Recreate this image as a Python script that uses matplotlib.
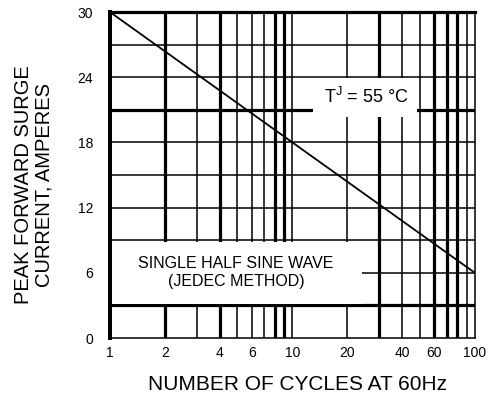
import matplotlib
matplotlib.use("Agg")
import matplotlib.pyplot as plt
from matplotlib.patches import Rectangle

plt.rcParams["font.family"] = ["Liberation Sans", "DejaVu Sans"]

# surge rating curve (straight line on the log axis)
cycles = [1, 100]
surge_amps = [30, 6]

x_ticks = [1, 2, 4, 6, 10, 20, 40, 60, 100]
x_ticklabels = ["1", "2", "4", "6", "10", "20", "40", "60", "100"]
y_ticks = [0, 6, 12, 18, 24, 30]

# chart paper grid: which rulings are printed heavy
v_grid = [2, 3, 4, 5, 6, 7, 8, 9, 10, 20, 30, 40, 50, 60, 70, 80, 90]
v_heavy = [2, 4, 8, 9, 30, 60, 70, 80]
h_grid = [3, 6, 9, 12, 15, 18, 21, 24, 27]
h_heavy = [3, 21]

THIN, HEAVY = 1.1, 2.3

fig = plt.figure(figsize=(5.02, 4.01), dpi=100)
ax = fig.add_axes([0.219, 0.157, 0.727, 0.813])
ax.set_xscale("log")
ax.set_xlim(1, 100)
ax.set_ylim(0, 30)

for v in v_grid:
    ax.axvline(v, color="black", lw=HEAVY if v in v_heavy else THIN, zorder=1)
for h in h_grid:
    ax.axhline(h, color="black", lw=HEAVY if h in h_heavy else THIN, zorder=1)

# white label panels that blank out the grid
ax.add_patch(Rectangle((1, 3.15), 23.0, 5.7, facecolor="white",
                       edgecolor="none", zorder=2))
ax.add_patch(Rectangle((12.9, 20.3), 35.0, 3.6, facecolor="white",
                       edgecolor="none", zorder=2))

ax.plot(cycles, surge_amps, color="black", lw=1.3, zorder=3)

ax.text(25.5, 22.2, r"T$^{\mathregular{J}}$ = 55 °C", fontsize=13,
        ha="center", va="center", zorder=4)
ax.text(4.9, 6.0, "SINGLE HALF SINE WAVE\n(JEDEC METHOD)", fontsize=11.5,
        ha="center", va="center", multialignment="center",
        color="black", linespacing=1.25, zorder=4)

ax.set_xticks(x_ticks)
ax.set_xticklabels(x_ticklabels)
ax.xaxis.set_minor_locator(matplotlib.ticker.NullLocator())
ax.set_yticks(y_ticks)
ax.tick_params(axis="both", length=0, labelsize=10)
ax.tick_params(axis="y", pad=12)
ax.tick_params(axis="x", pad=6)

ax.spines["left"].set_linewidth(2.9)
ax.spines["top"].set_linewidth(2.3)
ax.spines["right"].set_linewidth(1.1)
ax.spines["bottom"].set_linewidth(1.1)
for s in ax.spines.values():
    s.set_zorder(5)

fig.text(0.593, 0.04, "NUMBER OF CYCLES AT 60Hz", fontsize=15,
         ha="center", va="center")
fig.text(0.068, 0.539, "PEAK FORWARD SURGE\nCURRENT, AMPERES", fontsize=14.5,
         rotation=90, ha="center", va="center", multialignment="center",
         linespacing=1.1)

fig.savefig("out.png", dpi=100)
